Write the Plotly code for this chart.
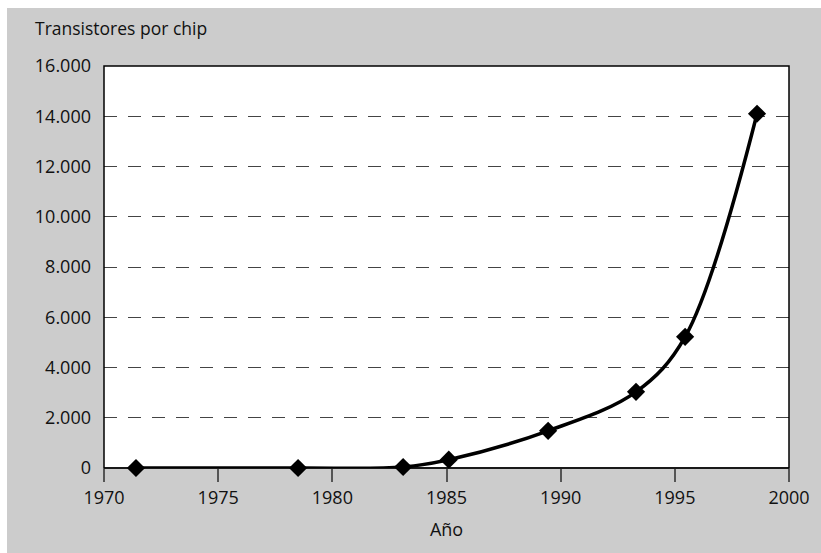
import plotly.graph_objects as go

years = [1971.4, 1978.5, 1983.1, 1985.1, 1989.45, 1993.3, 1995.45, 1998.6]
transistors = [0, 0, 40, 330, 1480, 3030, 5220, 14100]

y_title = "Transistores por chip"
x_title = "Año"

W, H = 821, 553
L, R, T, B = 104, 32, 66, 85
PW, PH = W - L - R, H - T - B

fig = go.Figure()
fig.add_trace(go.Scatter(
    x=years, y=transistors, mode="lines+markers",
    line=dict(color="black", width=3.5, shape="spline", smoothing=1.0),
    marker=dict(symbol="diamond", size=14, color="black"),
    showlegend=False, cliponaxis=False,
))

font_family = "Open Sans, Noto Sans, sans-serif"

fig.update_layout(
    width=W, height=H,
    margin=dict(l=L, r=R, t=T, b=B),
    paper_bgcolor="#cccccc",
    plot_bgcolor="white",
    separators=",.",
    font=dict(family=font_family, size=18, color="#111"),
    shapes=[
        # white page strips at top and left
        dict(type="rect", xref="paper", yref="paper", layer="below",
             x0=-L / PW, x1=(W - L) / PW, y0=(H - 8 - B) / PH, y1=(H - B) / PH,
             fillcolor="white", line=dict(width=0)),
        dict(type="rect", xref="paper", yref="paper", layer="below",
             x0=-L / PW, x1=(7 - L) / PW, y0=-B / PH, y1=(H - B) / PH,
             fillcolor="white", line=dict(width=0)),
        dict(type="rect", xref="paper", yref="paper", layer="above",
             x0=0, x1=1, y0=0, y1=1, line=dict(color="black", width=1.5)),
    ],
    annotations=[
        dict(text=y_title, xref="paper", yref="paper", x=(33 - L) / PW,
             y=(H - 28 - B) / PH, xanchor="left", yanchor="middle",
             showarrow=False, font=dict(size=17.5)),
    ],
)

fig.update_xaxes(
    range=[1970, 2000], tickvals=[1970, 1975, 1980, 1985, 1990, 1995, 2000],
    ticks="outside", ticklen=13, tickcolor="#555", tickwidth=1.5,
    showgrid=False, zeroline=False, showline=False,
    title=dict(text=x_title, font=dict(size=18), standoff=15),
    tickfont=dict(size=18),
)
fig.update_yaxes(
    range=[0, 16000], tickvals=list(range(0, 16001, 2000)), tickformat=",",
    showgrid=True, gridcolor="#444", gridwidth=1.2, griddash="13px,11px",
    zeroline=True, zerolinecolor="#666", zerolinewidth=1.5,
    ticks="", ticklabelstandoff=12, showline=False,
    tickfont=dict(size=18),
)

fig.write_html(
    "out.html",
    config={"displayModeBar": False},
    post_script="document.body.style.margin='0';document.body.style.overflow='hidden';",
)
